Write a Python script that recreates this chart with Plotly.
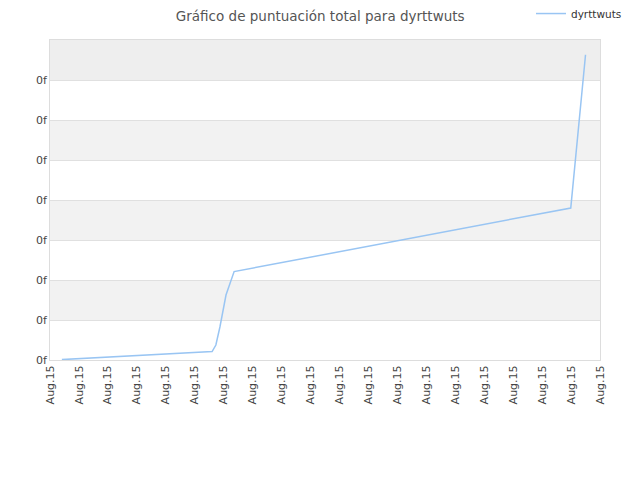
import plotly.graph_objects as go

# data (x in tick steps, y in grid steps)
x_vals = [0.41, 5.60, 5.73, 5.87, 6.08, 6.36, 17.99, 18.50]
y_vals = [0.01, 0.21, 0.375, 0.825, 1.625, 2.21, 3.80, 7.63]
x_ticks = list(range(20))
x_labels = ["Aug.15"] * 20
y_ticks = list(range(8))
y_labels = ["0f"] * 8

fig = go.Figure()

fig.add_trace(go.Scatter(
    x=x_vals,
    y=y_vals,
    mode="lines",
    name="dyrttwuts",
    line=dict(color="#99c5f3", width=1.5),
))

# alternating grey bands
shapes = []
for k in range(1, 8, 2):
    shapes.append(dict(
        type="rect", xref="paper", yref="y",
        x0=0, x1=1, y0=k, y1=k + 1,
        fillcolor="#f2f2f2" if k < 7 else "#eeeeee",
        line_width=0, layer="below",
    ))

# page body adds 8px, so the figure is 8px smaller and margins shifted
fig.update_layout(
    width=632,
    height=472,
    margin=dict(l=42, r=40, t=32, b=120, autoexpand=False),
    paper_bgcolor="white",
    plot_bgcolor="white",
    font=dict(family="DejaVu Sans", size=11, color="#444444"),
    title=dict(
        text="Gráfico de puntuación total para dyrttwuts",
        x=0.494, xanchor="center", y=0.982, yanchor="middle",
        font=dict(size=13.5, color="#555555"),
    ),
    showlegend=True,
    legend=dict(
        x=0.8745, y=1.128, xanchor="left", yanchor="top",
        bgcolor="rgba(0,0,0,0)",
        font=dict(size=10.5, color="#333333"),
    ),
    shapes=shapes,
    xaxis=dict(
        range=[0, 19],
        tickmode="array",
        tickvals=x_ticks,
        ticktext=x_labels,
        tickangle=-90,
        showgrid=False,
        zeroline=False,
        showline=True,
        linecolor="#dddddd",
        mirror=True,
        ticks="",
        automargin=False,
    ),
    yaxis=dict(
        range=[0, 8],
        tickmode="array",
        tickvals=y_ticks,
        ticktext=y_labels,
        showgrid=True,
        gridcolor="#e0e0e0",
        zeroline=False,
        showline=True,
        linecolor="#dddddd",
        mirror=True,
        ticks="",
        automargin=False,
    ),
)

fig.write_html("out.html")
